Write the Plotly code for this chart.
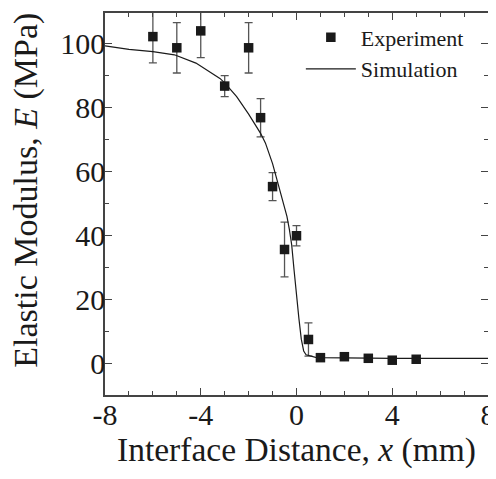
import plotly.graph_objects as go

# Experiment data
exp_x = [-6, -5, -4, -3, -2, -1.5, -1, -0.5, 0, 0.5, 1, 2, 3, 4, 5]
exp_y = [102.3, 98.8, 104.1, 86.8, 98.8, 76.9, 55.3, 35.6, 39.9, 7.4, 1.7, 2.0, 1.5, 0.9, 1.2]
exp_err = [8.2, 7.9, 8.4, 3.3, 7.9, 6.0, 4.4, 8.6, 3.2, 5.2, 0.3, 0.3, 0.3, 0.3, 0.3]

# Simulation curve
sim_x = [-8, -7, -6, -5.1, -4.2, -3.2, -3, -2.5, -2, -1.5, -1.3, -1.0, -0.8, -0.6, -0.4,
         -0.3, -0.2, -0.1, 0, 0.1, 0.2, 0.3, 0.4, 0.6, 0.8, 1, 2, 4, 6, 8]
sim_y = [99.4, 98.3, 97.6, 96.6, 94.0, 89.2, 87.8, 83.5, 78.0, 72.0, 69.0, 62.5, 57.0, 51.5, 46.0,
         42.0, 37.0, 29.0, 21.0, 14.0, 7.5, 3.8, 2.6, 2.1, 1.8, 1.7, 1.6, 1.5, 1.5, 1.5]

x_ticks = [-8, -4, 0, 4, 8]
y_ticks = [0, 20, 40, 60, 80, 100]

x_title = "Interface Distance, <i>x</i> (mm)"
y_title = "Elastic Modulus, <i>E</i> (MPa)"

FONT = "Liberation Serif"
INK = "#1a1a1a"

fig = go.Figure()
fig.add_trace(go.Scatter(
    x=exp_x, y=exp_y, mode="markers", name="Experiment",
    marker=dict(symbol="square", size=9.5, color=INK),
    error_y=dict(type="data", array=exp_err, visible=True, color="#555555",
                 thickness=1.3, width=4),
))
fig.add_trace(go.Scatter(
    x=sim_x, y=sim_y, mode="lines", name="Simulation",
    line=dict(color=INK, width=1.2),
))

axis_common = dict(
    showline=True, mirror="ticks", linecolor="#444444", linewidth=1.5,
    ticks="inside", ticklen=7, tickwidth=1.2, tickcolor="#444444",
    showgrid=False, zeroline=False, automargin=False,
    tickfont=dict(family=FONT, size=30, color=INK),
)

fig.update_xaxes(
    range=[-8, 8], tickvals=x_ticks, ticktext=[str(v) for v in x_ticks],
    minor=dict(dtick=1, ticklen=4, tickcolor="#444444", ticks="inside"),
    ticklabelstandoff=-8,
    **axis_common,
)
fig.update_yaxes(
    range=[-10, 109.7], tickvals=y_ticks, ticktext=[str(v) for v in y_ticks],
    minor=dict(dtick=10, tick0=0, ticklen=4, tickcolor="#444444", ticks="inside"),
    ticklabelstandoff=-8,
    **axis_common,
)

fig.add_annotation(text=x_title, xref="paper", yref="paper", x=0.5, y=-0.145,
                   xanchor="center", yanchor="middle", showarrow=False,
                   font=dict(family=FONT, size=33.5, color=INK))
fig.add_annotation(text=y_title, xref="paper", yref="paper", x=-0.207, y=0.5366,
                   xanchor="center", yanchor="middle", showarrow=False, textangle=-90,
                   font=dict(family=FONT, size=34, color=INK))

fig.update_layout(
    width=488, height=471,
    margin=dict(l=97, r=8, t=5, b=84),
    plot_bgcolor="white", paper_bgcolor="white",
    showlegend=True,
    legend=dict(x=0.950, y=0.991, xanchor="right", yanchor="top",
                bgcolor="rgba(0,0,0,0)", font=dict(family=FONT, size=22, color=INK),
                tracegroupgap=0, itemwidth=50),
)

fig.write_html("out.html")
